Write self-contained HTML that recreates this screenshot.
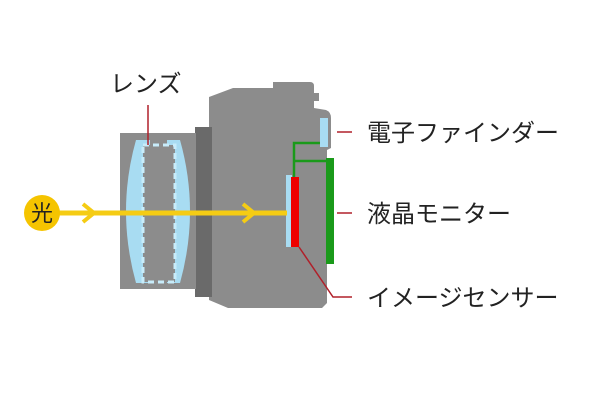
<!DOCTYPE html>
<html><head><meta charset="utf-8"><style>
body{margin:0;background:#fff;width:600px;height:400px;overflow:hidden;font-family:"Liberation Sans","Noto Sans CJK JP",sans-serif}
</style></head><body>
<svg width="600" height="400" viewBox="0 0 600 400" xmlns="http://www.w3.org/2000/svg">
<rect x="0" y="0" width="600" height="400" fill="#fff"/>
<path d="M209,97 L233,88 L273,88 L273,82 L310,82 Q314,82 314,86 L314,93 L319,93 L319,101 L314,101 L314,108 L326,110 Q331,112 331,118 L331,148 L327,150 L327,303 L322,308 L228,308 L209,300 Z" fill="#8c8c8c"/>
<rect x="320" y="118" width="8" height="29" fill="#a8dcf2"/>
<rect x="195" y="127" width="17" height="170" fill="#6a6a6a"/>
<rect x="120" y="133" width="76" height="156" fill="#8c8c8c"/>
<path d="M136,140 Q116,211 136,283 L150,283 L150,140 Z" fill="#a8dcf2"/>
<path d="M180,140 Q200,211 180,283 L167,283 L167,140 Z" fill="#a8dcf2"/>
<rect x="143" y="145" width="32" height="137" fill="#8c8c8c" stroke="#c8ecfa" stroke-width="3" stroke-dasharray="6,4"/>
<line x1="148" y1="105" x2="148" y2="145" stroke="#b0202a" stroke-width="1.5"/>
<rect x="286" y="175" width="6" height="72" fill="#a8dcf2"/>
<rect x="291" y="177" width="8" height="70" fill="#ee0000"/>
<rect x="326" y="158" width="8" height="106" fill="#1a9a1a"/>
<path d="M294,177 L294,143 L320,143 M294,161 L326,161" fill="none" stroke="#1a9a1a" stroke-width="2.5"/>
<line x1="58" y1="213" x2="287" y2="213" stroke="#f5cc14" stroke-width="5"/>
<path d="M83,204 L94,213 L83,222" fill="none" stroke="#f5cc14" stroke-width="4"/>
<path d="M243,204 L254,213 L243,222" fill="none" stroke="#f5cc14" stroke-width="4"/>
<circle cx="42" cy="213" r="18" fill="#f5c400"/>
<text x="42" y="221" font-size="22" text-anchor="middle" font-family="Noto Sans CJK JP, sans-serif" fill="#222">光</text>
<g stroke="#b0202a" stroke-width="1.5" fill="none">
<line x1="337" y1="132" x2="352" y2="132"/>
<line x1="337" y1="213" x2="352" y2="213"/>
<path d="M299,247 L333,297 L352,297"/>
</g>
<g font-size="24" fill="#222" font-family="Noto Sans CJK JP, sans-serif">
<text x="110" y="92">レンズ</text>
<text x="367" y="141">電子ファインダー</text>
<text x="367" y="222">液晶モニター</text>
<text x="367" y="306">イメージセンサー</text>
</g>
</svg>
</body></html>
